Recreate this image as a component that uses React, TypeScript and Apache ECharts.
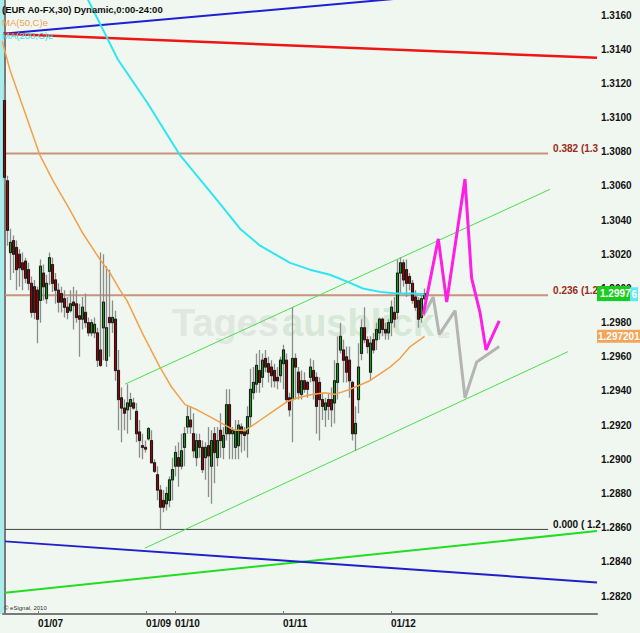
import React, { useEffect, useRef } from "react";
import * as echarts from "echarts";

// ---- candles: [open, close, low, high] per 40-minute slot ----
const candleOHLC: number[][] = [
  [1.3110, 1.3065, 1.3061, 1.3119], [1.3063, 1.3034, 1.3025, 1.3066], [1.3021, 1.3027, 1.3005, 1.3035],
  [1.3028, 1.3020, 1.3009, 1.3031], [1.3024, 1.3011, 1.2999, 1.3028], [1.3020, 1.3012, 1.3001, 1.3023],
  [1.3015, 1.3011, 1.2999, 1.3021], [1.3016, 1.3006, 1.3003, 1.3018], [1.3011, 1.3003, 1.2999, 1.3015],
  [1.3003, 1.2986, 1.2983, 1.3007], [1.3001, 1.2986, 1.2982, 1.3005], [1.2999, 1.2982, 1.2968, 1.3001],
  [1.2993, 1.3013, 1.2980, 1.3017], [1.3009, 1.3001, 1.2993, 1.3014], [1.2994, 1.3003, 1.2991, 1.3008],
  [1.3010, 1.3018, 1.3002, 1.3021], [1.3014, 1.3003, 1.2998, 1.3018], [1.3005, 1.2999, 1.2991, 1.3009],
  [1.2999, 1.2992, 1.2986, 1.3003], [1.2997, 1.2992, 1.2986, 1.3001], [1.2994, 1.2989, 1.2983, 1.2999],
  [1.2989, 1.2986, 1.2982, 1.2995], [1.2987, 1.2991, 1.2986, 1.2999], [1.2992, 1.2990, 1.2976, 1.3001],
  [1.2991, 1.2983, 1.2980, 1.2999], [1.2984, 1.2982, 1.2960, 1.2991], [1.2982, 1.2989, 1.2976, 1.2995],
  [1.2986, 1.2980, 1.2977, 1.2997], [1.2980, 1.2974, 1.2972, 1.2983], [1.2974, 1.2980, 1.2972, 1.2982],
  [1.2974, 1.2979, 1.2971, 1.2983], [1.2974, 1.2958, 1.2954, 1.2977], [1.2964, 1.2955, 1.2954, 1.3021],
  [1.2977, 1.2992, 1.2958, 1.3020], [1.2958, 1.2977, 1.2954, 1.3013], [1.2983, 1.2980, 1.2960, 1.3011],
  [1.2980, 1.2983, 1.2974, 1.2993], [1.2982, 1.2952, 1.2946, 1.2987], [1.2952, 1.2935, 1.2917, 1.2964],
  [1.2936, 1.2930, 1.2910, 1.2942], [1.2930, 1.2927, 1.2917, 1.2935], [1.2929, 1.2933, 1.2915, 1.2944],
  [1.2931, 1.2935, 1.2923, 1.2939], [1.2933, 1.2930, 1.2929, 1.2936], [1.2928, 1.2915, 1.2910, 1.2933],
  [1.2916, 1.2911, 1.2901, 1.2923], [1.2908, 1.2907, 1.2900, 1.2915], [1.2907, 1.2906, 1.2904, 1.2911],
  [1.2912, 1.2918, 1.2911, 1.2919], [1.2911, 1.2898, 1.2898, 1.2917], [1.2898, 1.2893, 1.2892, 1.2900],
  [1.2891, 1.2882, 1.2876, 1.2896], [1.2882, 1.2872, 1.2859, 1.2885], [1.2876, 1.2872, 1.2869, 1.2882],
  [1.2874, 1.2880, 1.2870, 1.2884], [1.2876, 1.2888, 1.2872, 1.2890], [1.2888, 1.2894, 1.2876, 1.2901],
  [1.2896, 1.2904, 1.2890, 1.2908], [1.2901, 1.2896, 1.2884, 1.2910], [1.2896, 1.2905, 1.2894, 1.2915],
  [1.2907, 1.2915, 1.2896, 1.2919], [1.2919, 1.2925, 1.2915, 1.2931], [1.2923, 1.2919, 1.2915, 1.2931],
  [1.2915, 1.2905, 1.2901, 1.2927], [1.2901, 1.2911, 1.2896, 1.2915], [1.2911, 1.2907, 1.2901, 1.2915],
  [1.2907, 1.2894, 1.2892, 1.2911], [1.2901, 1.2907, 1.2888, 1.2910], [1.2908, 1.2902, 1.2878, 1.2919],
  [1.2896, 1.2911, 1.2874, 1.2917], [1.2915, 1.2904, 1.2886, 1.2919], [1.2901, 1.2911, 1.2896, 1.2919],
  [1.2917, 1.2911, 1.2901, 1.2927], [1.2907, 1.2914, 1.2900, 1.2919], [1.2915, 1.2932, 1.2911, 1.2941],
  [1.2932, 1.2915, 1.2900, 1.2941], [1.2915, 1.2917, 1.2900, 1.2919], [1.2907, 1.2917, 1.2900, 1.2923],
  [1.2908, 1.2920, 1.2900, 1.2923], [1.2919, 1.2915, 1.2904, 1.2921], [1.2916, 1.2914, 1.2905, 1.2919],
  [1.2915, 1.2925, 1.2901, 1.2931], [1.2925, 1.2941, 1.2919, 1.2953], [1.2939, 1.2945, 1.2935, 1.2954],
  [1.2944, 1.2955, 1.2939, 1.2962], [1.2952, 1.2945, 1.2939, 1.2964], [1.2948, 1.2958, 1.2942, 1.2962],
  [1.2959, 1.2954, 1.2951, 1.2964], [1.2956, 1.2951, 1.2945, 1.2960], [1.2954, 1.2949, 1.2942, 1.2958],
  [1.2952, 1.2946, 1.2942, 1.2956], [1.2948, 1.2946, 1.2941, 1.2954], [1.2949, 1.2958, 1.2945, 1.2960],
  [1.2956, 1.2964, 1.2941, 1.2967], [1.2958, 1.2935, 1.2933, 1.2962], [1.2936, 1.2929, 1.2925, 1.2939],
  [1.2935, 1.2959, 1.2910, 1.2989], [1.2959, 1.2954, 1.2935, 1.2962], [1.2951, 1.2939, 1.2935, 1.2954],
  [1.2938, 1.2946, 1.2935, 1.2952], [1.2946, 1.2941, 1.2939, 1.2951], [1.2945, 1.2941, 1.2936, 1.2946],
  [1.2948, 1.2954, 1.2945, 1.2959], [1.2952, 1.2946, 1.2935, 1.2958], [1.2948, 1.2931, 1.2915, 1.2951],
  [1.2945, 1.2935, 1.2911, 1.2948], [1.2935, 1.2931, 1.2923, 1.2939], [1.2929, 1.2933, 1.2919, 1.2936],
  [1.2935, 1.2931, 1.2923, 1.2939], [1.2935, 1.2929, 1.2919, 1.2942], [1.2933, 1.2946, 1.2921, 1.2958],
  [1.2945, 1.2956, 1.2935, 1.2972], [1.2964, 1.2972, 1.2962, 1.2980], [1.2964, 1.2958, 1.2945, 1.2970],
  [1.2960, 1.2951, 1.2945, 1.2966], [1.2958, 1.2946, 1.2936, 1.2966], [1.2945, 1.2915, 1.2911, 1.2946],
  [1.2915, 1.2921, 1.2905, 1.2931], [1.2935, 1.2954, 1.2927, 1.2968], [1.2962, 1.2977, 1.2958, 1.2982],
  [1.2977, 1.2970, 1.2968, 1.2989], [1.2970, 1.2966, 1.2962, 1.2972], [1.2951, 1.2968, 1.2946, 1.2972],
  [1.2970, 1.2964, 1.2962, 1.2974], [1.2970, 1.2976, 1.2964, 1.2980], [1.2974, 1.2982, 1.2970, 1.2983],
  [1.2982, 1.2976, 1.2972, 1.2983], [1.2976, 1.2974, 1.2970, 1.2980], [1.2974, 1.2980, 1.2970, 1.2982],
  [1.2980, 1.2989, 1.2972, 1.2993], [1.2986, 1.2982, 1.2977, 1.2995], [1.2986, 1.3009, 1.2982, 1.3017],
  [1.3009, 1.3015, 1.2997, 1.3018], [1.3015, 1.3005, 1.3001, 1.3017], [1.3011, 1.3003, 1.2995, 1.3017],
  [1.3007, 1.3003, 1.2999, 1.3009], [1.3003, 1.2993, 1.2991, 1.3005], [1.2995, 1.2989, 1.2987, 1.2999],
  [1.2993, 1.2982, 1.2977, 1.2995], [1.2983, 1.2994, 1.2980, 1.2997], [1.2994, 1.2997, 1.2993, 1.3000],
];

const SLOT_COUNT = 198;
const Y_MIN = 1.28095;
const Y_MAX = 1.31688;

const priceTicks = [
  1.282, 1.284, 1.286, 1.288, 1.29, 1.292, 1.294, 1.296, 1.298,
  1.3, 1.302, 1.304, 1.306, 1.308, 1.31, 1.312, 1.314, 1.316,
];
const dayTickSlots = [11.2, 47.2, 56.8, 92.8, 128.8];
const dayLabels = ["01/07", "01/09", "01/10", "01/11", "01/12"];

// moving averages
const ma50Slots = [-0.8, 1.8, 6.2, 11.8, 16.2, 21.8, 26.2, 31.8, 35.2, 38.5, 40.8, 46.2, 51.8, 55.8, 60.2, 64.2, 69.5, 73.5, 76.8, 80.2, 84.5, 90.2, 94.5, 97.8, 102.5, 106.8, 110.2, 115.2, 121.8, 128.5, 131.8, 135.2, 138.5, 140];
const ma50Values = [1.3145, 1.3128, 1.3106, 1.3078, 1.3063, 1.3046, 1.3032, 1.3017, 1.3009, 1.2999, 1.2993, 1.2973, 1.2954, 1.2942, 1.2932, 1.2929, 1.2924, 1.292, 1.2917, 1.2917, 1.2922, 1.2929, 1.2934, 1.2936, 1.2938, 1.2939, 1.2938, 1.2941, 1.2946, 1.2954, 1.2959, 1.2966, 1.297, 1.297201];
const ma200Slots = [21.8, 27.8, 37.8, 47.5, 58.5, 71.2, 78.5, 85.2, 95.2, 101.8, 108.5, 114.2, 119.5, 125.2, 130.8, 136.2, 140];
const ma200Values = [1.319, 1.3169, 1.3134, 1.3109, 1.3078, 1.3051, 1.3035, 1.3025, 1.3015, 1.3011, 1.3008, 1.3004, 1.3, 1.2998, 1.2997, 1.2997, 1.29966];

// forecast paths
const magentaSlots = [139.6, 144.6, 147.4, 153.5, 155.7, 158.5, 160.5, 164.9];
const magentaValues = [1.2985, 1.3029, 1.2992, 1.3064, 1.3006, 1.2986, 1.2964, 1.2981];
const graySlots = [139.6, 142.9, 144.9, 150.2, 153.5, 157.4, 164.9];
const grayValues = [1.2984, 1.2995, 1.2973, 1.2987, 1.2936, 1.2957, 1.2966];

// trend lines: [slot, price] end points
const blueTopLine = [[-0.5, 1.3149], [197.5, 1.318]];
const redLine = [[-0.5, 1.3149], [197.5, 1.3135]];
const channelUpper = [[40.2, 1.2944], [181.8, 1.3058]];
const channelLower = [[46.8, 1.2848], [187.8, 1.2963]];
const greenLong = [[0.2, 1.2822], [197.5, 1.2858]];
const blueBottom = [[0.2, 1.2852], [197.5, 1.2828]];

// fibonacci levels
const fibRatios = ["0.382", "0.236", "0.000"];
const fibPrices = [1.3079, 1.2996, 1.2859];
const fibLabelTexts = ["0.382 (1.3", "0.236 (1.2", "0.000 ( 1.2"];
const fibStartSlot = 0.2;
const fibEndSlot = 181.2;

export default function App() {
  const ref = useRef<HTMLDivElement>(null);

  useEffect(() => {
    if (!ref.current) return;
    const chart = echarts.init(ref.current, null, { renderer: "svg" });
    const fam = '"Liberation Sans", Arial, sans-serif';
    const pair = (xs: number[], ys: number[]) => xs.map((x, i) => [x, ys[i]]);
    const line = (name: string, data: number[][], color: string, width: number, z: number) => ({
      type: "line",
      name,
      xAxisIndex: 0,
      yAxisIndex: 0,
      data,
      symbol: "none",
      silent: true,
      z,
      lineStyle: { color, width },
      emphasis: { disabled: true },
    });

    const fibColors = ["#c8937f", "#c8937f", "#404040"];
    const fibWidths = [2, 2, 1];
    const fibLabelColors = ["#9a2a1a", "#9a2a1a", "#111111"];

    const bodies = candleOHLC.map(([o, c]) => [o, c, Math.min(o, c), Math.max(o, c)]);
    const slotCategories = Array.from({ length: SLOT_COUNT }, (_, i) => String(i));

    const option: any = {
      animation: false,
      backgroundColor: "#f0f7f0",
      grid: { left: 3, right: 43, top: 0, bottom: 19, containLabel: false },
      xAxis: [
        {
          type: "value",
          min: -0.5,
          max: SLOT_COUNT - 0.5,
          position: "bottom",
          axisLine: { show: true, onZero: false, lineStyle: { color: "#7a7a7a", width: 2 } },
          splitLine: { show: false },
          axisTick: { show: true, inside: true, length: 3, customValues: dayTickSlots, lineStyle: { color: "#7a7a7a" } },
          axisLabel: {
            show: true,
            customValues: dayTickSlots,
            formatter: (v: number) => {
              const k = dayTickSlots.findIndex((t) => Math.abs(t - v) < 0.01);
              return k >= 0 ? dayLabels[k] : "";
            },
            align: "left",
            margin: 4,
            color: "#111",
            fontWeight: "bold",
            fontSize: 10,
            fontFamily: fam,
          },
        },
        { type: "category", data: slotCategories, show: false, boundaryGap: true },
      ],
      yAxis: {
        type: "value",
        position: "right",
        min: Y_MIN,
        max: Y_MAX,
        axisLine: { show: true, lineStyle: { color: "#7a7a7a", width: 2 } },
        axisTick: { show: false },
        splitLine: { show: false },
        axisLabel: {
          customValues: priceTicks,
          formatter: (v: number) => v.toFixed(4),
          margin: 4,
          color: "#111",
          fontWeight: "bold",
          fontSize: 10,
          fontFamily: fam,
        },
      },
      series: [
        line("blueTop", blueTopLine, "#1f1fd6", 2, 2),
        line("red", redLine, "#ee1515", 2.5, 2),
        ...fibPrices.map((p, i) =>
          line("fib" + fibRatios[i], [[fibStartSlot, p], [fibEndSlot, p]], fibColors[i], fibWidths[i], 2)
        ),
        line("channelUpper", channelUpper, "#4be04b", 1, 2),
        line("channelLower", channelLower, "#4be04b", 1, 2),
        line("greenLong", greenLong, "#22dd22", 2, 2),
        line("blueBottom", blueBottom, "#2020c8", 2, 2),
        {
          type: "candlestick",
          name: "wicks",
          xAxisIndex: 1,
          yAxisIndex: 0,
          data: candleOHLC,
          barWidth: 2,
          silent: true,
          z: 4,
          itemStyle: { color: "#8c8c8c", color0: "#8c8c8c", borderColor: "#8c8c8c", borderColor0: "#8c8c8c", borderWidth: 1.3 },
          emphasis: { disabled: true },
        },
        {
          type: "candlestick",
          name: "bodies",
          xAxisIndex: 1,
          yAxisIndex: 0,
          data: bodies,
          barWidth: 2,
          silent: true,
          z: 5,
          itemStyle: { color: "#0d9e0d", color0: "#a40000", borderColor: "#1a1a1a", borderColor0: "#1a1a1a", borderWidth: 1 },
          emphasis: { disabled: true },
        },
        line("ma200", pair(ma200Slots, ma200Values), "#2ee6f0", 2, 6),
        line("ma50", pair(ma50Slots, ma50Values), "#f4a048", 1.5, 6),
        line("grayPath", pair(graySlots, grayValues), "#b4b4b4", 3, 7),
        line("magentaPath", pair(magentaSlots, magentaValues), "#ff1ee6", 3, 8),
      ],
    };
    chart.setOption(option);

    const xp = (s: number) => chart.convertToPixel({ xAxisIndex: 0 }, s) as number;
    const yp = (v: number) => chart.convertToPixel({ yAxisIndex: 0 }, v) as number;
    const plotBottom = yp(Y_MIN);
    const axisX = xp(SLOT_COUNT - 0.5);

    const txt = (text: string, x: number, y: number, font: string, fill: string, z: number, align = "left") => ({
      type: "text",
      x,
      y,
      z,
      silent: true,
      style: { text, font, fill, textAlign: align, textVerticalAlign: "middle", align, verticalAlign: "middle" },
    });

    const lastClose = candleOHLC[candleOHLC.length - 1][1];
    const lastMa50 = ma50Values[ma50Values.length - 1];
    const lastMa200 = ma200Values[ma200Values.length - 1];
    const yc = yp(lastMa200);
    const yg = yp(lastClose);
    const yo = yp(lastMa50);
    // only the last digit of the MA(200) box peeks out from under the price box
    const ma200Text = lastMa200.toFixed(5);

    const graphic: any[] = [
      { type: "rect", z: 0, silent: true, shape: { x: 0, y: 0, width: 4, height: plotBottom }, style: { fill: "#a9ecec" } },
      txt("Tages", 172, 323, `bold 38px ${fam}`, "#e0e6e0", 1),
      txt("ausblick", 282, 323, `bold 38px ${fam}`, "#d6e8d6", 1),
      txt("de", 438, 334, `bold 10px ${fam}`, "#d9e2d9", 1),
      txt("(EUR A0-FX,30) Dynamic,0:00-24:00", 2, 9, `bold 9.5px ${fam}`, "#111111", 50),
      txt("MA(50,C)e", 2, 22, `9.5px ${fam}`, "#f0a050", 50),
      txt("MA(200,C)e", 2, 35, `9.5px ${fam}`, "#30dce8", 50),
      txt("© eSignal, 2010", 4, 608, `6px ${fam}`, "#333333", 50),
      ...fibPrices.map((p, i) =>
        txt(fibLabelTexts[i], xp(fibEndSlot) + 5, yp(p) - 5, `bold 10px ${fam}`, fibLabelColors[i], 20)
      ),
      { type: "rect", z: 60, silent: true, shape: { x: axisX, y: yc - 7, width: 41, height: 14 }, style: { fill: "#5ee8f4" } },
      txt(ma200Text.slice(-1), axisX + 40, yc, `bold 10px ${fam}`, "#ffffff", 61, "right"),
      { type: "rect", z: 62, silent: true, shape: { x: axisX, y: yg - 7.5, width: 33, height: 15 }, style: { fill: "#1ccc1c" } },
      txt(lastClose.toFixed(4), axisX + 3, yg, `bold 10px ${fam}`, "#ffffff", 63),
      { type: "rect", z: 60, silent: true, shape: { x: axisX, y: yo - 6.5, width: 43, height: 13 }, style: { fill: "#f2a55a" } },
      txt(lastMa50.toFixed(6), axisX + 1, yo, `bold 10px ${fam}`, "#ffffff", 61),
    ];
    chart.setOption({ graphic });

    return () => chart.dispose();
  }, []);

  return (
    <div
      ref={ref}
      style={{ position: "fixed", left: 0, top: 0, width: 640, height: 633, background: "#f0f7f0" }}
    />
  );
}
